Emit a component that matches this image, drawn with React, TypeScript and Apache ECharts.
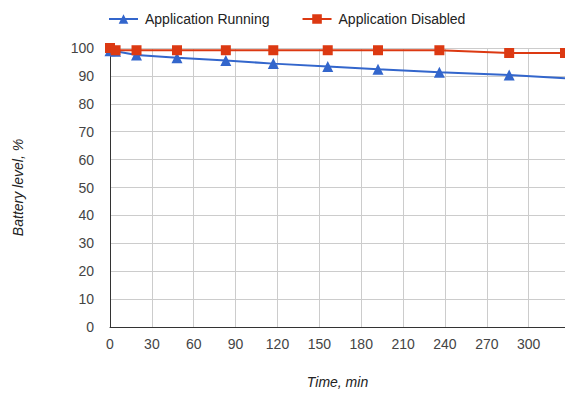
import React, { useEffect, useRef } from "react";
import * as echarts from "echarts";

const timeRunning = [0, 4, 19, 48, 83, 117, 156, 192, 236, 286, 326];
const levelRunning = [99, 98.8, 97.5, 96.5, 95.5, 94.4, 93.4, 92.4, 91.3, 90.3, 89.2];
const timeDisabled = [0, 4, 19, 48, 83, 117, 156, 192, 236, 286, 326];
const levelDisabled = [100, 99.2, 99.2, 99.2, 99.2, 99.2, 99.2, 99.2, 99.2, 98.2, 98.2];
const xTicks = [0, 30, 60, 90, 120, 150, 180, 210, 240, 270, 300];
const yTicks = [0, 10, 20, 30, 40, 50, 60, 70, 80, 90, 100];

export default function App() {
  const ref = useRef<HTMLDivElement>(null);
  useEffect(() => {
    if (!ref.current) return;
    const chart = echarts.init(ref.current, null, { renderer: "svg" });
    const font = "Arial, 'Liberation Sans', sans-serif";
    const running = timeRunning.map((t, i) => [t, levelRunning[i]]);
    const disabled = timeDisabled.map((t, i) => [t, levelDisabled[i]]);
    const runSymbols = timeRunning.map((_, i) => (i === timeRunning.length - 1 ? "none" : "triangle"));
    chart.setOption({
      animation: false,
      textStyle: { fontFamily: font },
      legend: {
        left: 103,
        top: 7,
        itemWidth: 29,
        itemHeight: 12,
        itemGap: 32,
        textStyle: { fontSize: 14, color: "#222", fontFamily: font, padding: [0, 0, 0, 2] },
        data: ["Application Running", "Application Disabled"],
      },
      grid: { left: 110, right: 0, top: 48, bottom: 62, containLabel: false },
      xAxis: {
        type: "value",
        min: xTicks[0],
        max: 326,
        interval: 30,
        name: "Time, min",
        nameLocation: "middle",
        nameGap: 48,
        nameTextStyle: { fontStyle: "italic", fontSize: 14, color: "#222", fontFamily: font },
        axisLine: { show: true, lineStyle: { color: "#333", width: 1 } },
        axisTick: { show: false },
        axisLabel: {
          fontSize: 14,
          color: "#444",
          margin: 10,
          showMaxLabel: false,
          formatter: (v: number) => (xTicks.includes(v) ? String(v) : ""),
        },
        splitLine: { show: true, lineStyle: { color: "#ccc", width: 1 } },
      },
      yAxis: {
        type: "value",
        min: yTicks[0],
        max: yTicks[yTicks.length - 1],
        interval: 10,
        name: "Battery level, %",
        nameLocation: "middle",
        nameGap: 85,
        nameTextStyle: { fontStyle: "italic", fontSize: 14, color: "#222", fontFamily: font },
        axisLine: { show: true, lineStyle: { color: "#333", width: 1 } },
        axisTick: { show: false },
        axisLabel: { fontSize: 14, color: "#444", margin: 16 },
        splitLine: { show: true, lineStyle: { color: "#ccc", width: 1 } },
      },
      series: [
        {
          name: "Application Running",
          type: "line",
          data: running.map((d, i) => ({ value: d, symbol: runSymbols[i] })),
          symbol: "triangle",
          symbolSize: 11,
          showAllSymbol: true,
          color: "#3366cc",
          lineStyle: { width: 2, color: "#3366cc" },
          itemStyle: { color: "#3366cc" },
          clip: false,
        },
        {
          name: "Application Disabled",
          type: "line",
          data: disabled,
          symbol: "rect",
          symbolSize: 10,
          showAllSymbol: true,
          color: "#dc3912",
          lineStyle: { width: 2, color: "#dc3912" },
          itemStyle: { color: "#dc3912" },
          clip: false,
        },
      ],
    });
    return () => chart.dispose();
  }, []);
  return <div ref={ref} style={{ width: 565, height: 394, position: "absolute", left: 0, top: 0 }} />;
}
